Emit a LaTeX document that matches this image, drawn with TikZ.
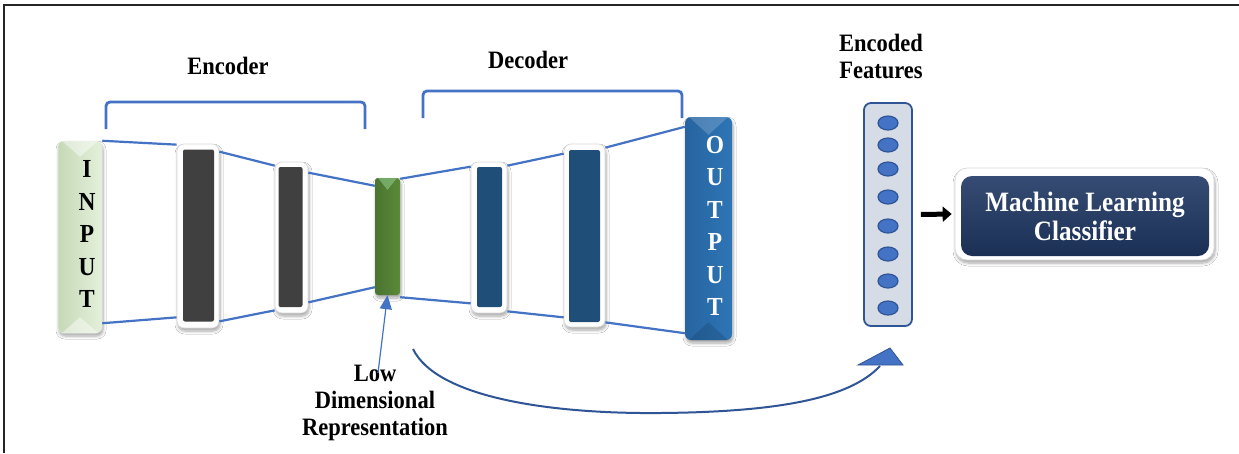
\documentclass[tikz,border=0pt]{standalone}
\usepackage{fontspec}
\setmainfont{Liberation Serif}[FakeStretch=0.9]
\usetikzlibrary{calc,shadows.blur,arrows.meta,shapes.geometric}
\definecolor{lineblue}{HTML}{4472C4}
\definecolor{curveblue}{HTML}{2F5597}
\definecolor{layergray}{HTML}{404040}
\definecolor{decnavy}{HTML}{1F4E79}
\definecolor{outblue}{HTML}{2E75B6}
\definecolor{outdark}{HTML}{2764A0}
\definecolor{latgreen}{HTML}{5A8A38}
\definecolor{latdark}{HTML}{4A7430}
\definecolor{mlnavy}{HTML}{203864}
\definecolor{featfill}{HTML}{D6DCE5}
\definecolor{inlight}{HTML}{E4F0DC}
\definecolor{indark}{HTML}{C6D9B6}
\tikzset{
  lab/.style={font=\fontsize{25}{27}\selectfont\bfseries, inner sep=0pt, align=center},
  softshadow/.style={blur shadow={shadow xshift=1pt, shadow yshift=-3pt, shadow blur radius=3pt, shadow blur steps=6, shadow opacity=35}},
  framebox/.style={rectangle, rounded corners=7pt, fill=white, draw=black!15, line width=0.7pt, inner sep=0pt, softshadow},
  enclayer/.style={rectangle, rounded corners=2pt, fill=layergray, inner sep=0pt},
  declayer/.style={rectangle, rounded corners=2pt, fill=decnavy, inner sep=0pt},
  conn/.style={draw=lineblue, line width=2.2pt},
  bracketline/.style={draw=lineblue, line width=2.8pt, rounded corners=4pt},
  dotnode/.style={ellipse, minimum width=20pt, minimum height=14pt, inner sep=0pt, fill=lineblue, draw=curveblue, line width=1.2pt},
}
\begin{document}
\begin{tikzpicture}[x=1pt,y=-1pt]
\useasboundingbox (0,0) rectangle (1239,453);
\fill[white] (0,0) rectangle (1239,453);
\draw[black!85, line width=1.6pt] (4,453) -- (4,5) -- (1239,5);

% labels
\node[lab] (enc) at (228,66) {Encoder};
\node[lab] (dec) at (528,60) {Decoder};
\node[lab] (ef) at (881,56) {Encoded\\Features};
\node[lab] (ldr) at (375,403) {Low\\Dimensional\\Representation};

% brackets
\draw[bracketline] (106,129) -- (106,102) -- (365,102) -- (365,129);
\draw[bracketline] (423,118) -- (423,91) -- (682,91) -- (682,118);

% input
\node[rectangle, rounded corners=6pt, left color=indark, right color=inlight, draw=indark!80!black!30, line width=0.5pt, minimum width=44pt, minimum height=192pt, inner sep=0pt, softshadow] (in) at (80,237) {};
\fill[white, opacity=0.45] ([xshift=4pt]in.north west) -- ([xshift=-4pt]in.north east) -- ($(in.north)+(0,-16pt)$) -- cycle;
\fill[white, opacity=0.45] ([xshift=4pt]in.south west) -- ([xshift=-4pt]in.south east) -- ($(in.south)+(0,16pt)$) -- cycle;
\node[font=\fontsize{26}{32.5}\selectfont\bfseries, align=center, inner sep=0pt] (inlab) at (87,234) {I\\N\\P\\U\\T};

% encoder layers
\node[framebox, minimum width=42pt, minimum height=184pt] (e1f) at (198,236) {};
\node[enclayer, minimum width=31pt, minimum height=172pt] (e1) at (198.5,235.5) {};
\node[framebox, minimum width=33pt, minimum height=151pt] (e2f) at (291.5,237.5) {};
\node[enclayer, minimum width=24pt, minimum height=140pt] (e2) at (290.5,237) {};

% latent
\node[rectangle, rounded corners=3pt, left color=latdark, right color=latgreen, minimum width=25pt, minimum height=117pt, inner sep=0pt, softshadow] (z) at (387.5,236.5) {};
\fill[green!60!black!40!white, opacity=0.5] ([xshift=3pt]z.north west) -- ([xshift=-3pt]z.north east) -- ($(z.north)+(0,-12pt)$) -- cycle;

% decoder layers
\node[framebox, minimum width=36pt, minimum height=151pt] (d1f) at (489,237.5) {};
\node[declayer, minimum width=25pt, minimum height=140pt] (d1) at (489.5,237) {};
\node[framebox, minimum width=41pt, minimum height=183pt] (d2f) at (584.5,235.5) {};
\node[declayer, minimum width=31pt, minimum height=172pt] (d2) at (584.5,236) {};

% output
\node[rectangle, rounded corners=6pt, left color=outdark, right color=outblue, minimum width=47pt, minimum height=223pt, inner sep=0pt, softshadow] (out) at (708.5,228.5) {};
\fill[white, opacity=0.18] ([xshift=4pt]out.north west) -- ([xshift=-4pt]out.north east) -- ($(out.north)+(0,-18pt)$) -- cycle;
\fill[black, opacity=0.12] ([xshift=4pt]out.south west) -- ([xshift=-4pt]out.south east) -- ($(out.south)+(0,18pt)$) -- cycle;
\node[font=\fontsize{26}{32.5}\selectfont\bfseries, text=white, align=center, inner sep=0pt] (outlab) at (715,226) {O\\U\\T\\P\\U\\T};

% connectors
\draw[conn] (in.north east) -- ([yshift=-1pt]e1f.north west);
\draw[conn] ([yshift=-8pt]e1f.north east) -- ([yshift=-4pt]e2f.north west);
\draw[conn] ([yshift=-11pt]e2f.north east) -- ([yshift=-8pt]z.north west);
\draw[conn] ([yshift=10pt]in.south east) -- ([yshift=11pt]e1f.south west);
\draw[conn] ([yshift=7pt]e1f.south east) -- ([yshift=3pt]e2f.south west);
\draw[conn] ([yshift=11pt]e2f.south east) -- ([yshift=8pt]z.south west);
\draw[conn] ([yshift=-1pt]z.north east) -- ([yshift=-5pt]d1f.north west);
\draw[conn] ([yshift=-4pt]d1f.north east) -- ([yshift=-10pt]d2f.north west);
\draw[conn] ([yshift=-4pt]d2f.north east) -- ([yshift=-10pt]out.north west);
\draw[conn] ([yshift=-2pt]z.south east) -- ([yshift=10pt]d1f.south west);
\draw[conn] ([yshift=2pt]d1f.south east) -- ([yshift=10pt]d2f.south west);
\draw[conn] ([yshift=5pt]d2f.south east) -- ([yshift=7pt]out.south west);

% low-dim arrow
\draw[draw=lineblue, line width=1.2pt, -{Triangle[length=14pt,width=12pt]}] ([shift={(3pt,-8pt)}]ldr.north) -- (z.south);

% encoded features
\node[rectangle, rounded corners=7pt, fill=featfill, draw=curveblue, line width=1.8pt, minimum width=48pt, minimum height=223pt, inner sep=0pt] (feat) at (888,214.5) {};
\foreach \yy [count=\i] in {123,145,169,197,226,254,281,308}
  \node[dotnode] (dot\i) at (888,\yy) {};

% curved arrow
\coordinate (cs) at (413,349);
\coordinate (ce) at (880,366);
\draw[draw=curveblue, line width=2pt] (cs) .. controls (438,400) and (560,414) .. (660,413) .. controls (780,412) and (850,398) .. (ce);
\filldraw[fill=lineblue, draw=curveblue, line width=0.8pt] (858,365) -- (890,348) -- (903,365) -- cycle;

% classifier
\node[rectangle, rounded corners=12pt, fill=white, draw=black!15, line width=0.7pt, minimum width=259pt, minimum height=92pt, inner sep=0pt, softshadow] (mlf) at (1084.5,214) {};
\node[rectangle, rounded corners=11pt, top color=mlnavy!90!white, bottom color=mlnavy!85!black, minimum width=248pt, minimum height=80pt, inner sep=0pt, text=white, font=\fontsize{28}{29}\selectfont\bfseries, align=center] (ml) at (1085,216) {Machine Learning\\Classifier};
\draw[black, line width=5pt, -{Triangle[length=9pt,width=15pt]}] ([xshift=8pt]feat.east) -- ([xshift=-3pt]mlf.west);
\end{tikzpicture}
\end{document}
